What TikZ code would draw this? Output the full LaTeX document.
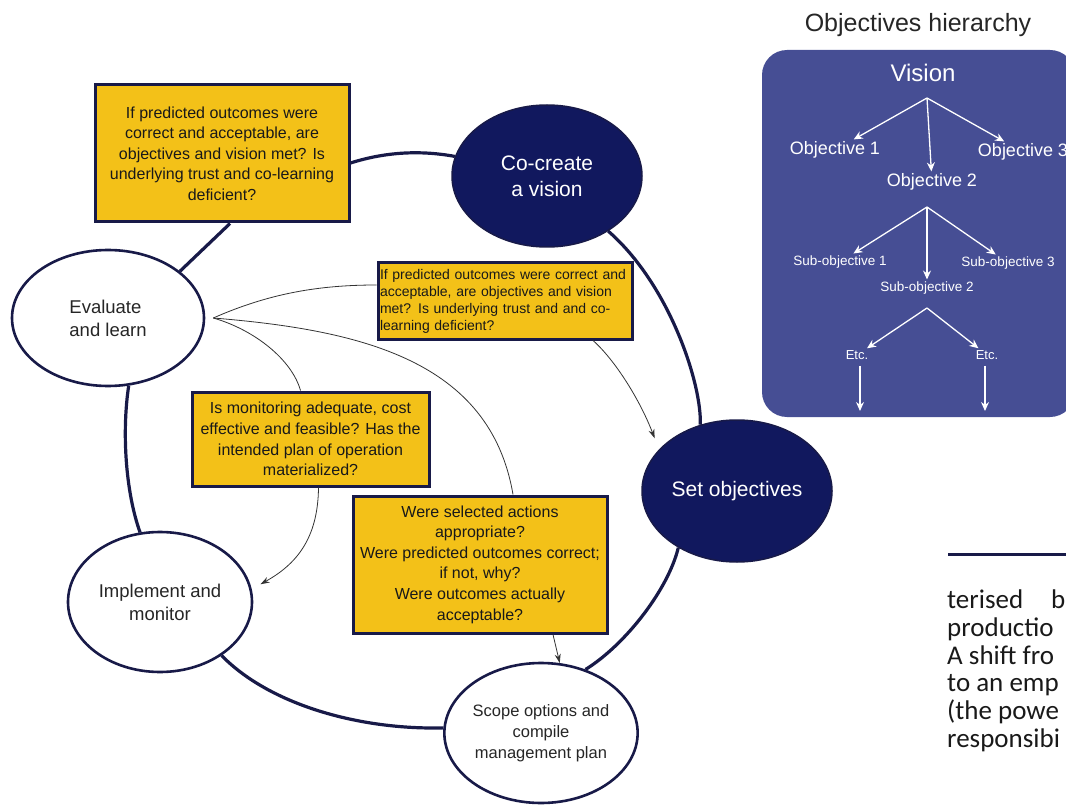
\documentclass[tikz,border=0pt]{standalone}
\usepackage{fontspec}
\setmainfont{Liberation Sans}
\newfontfamily\pagefont{Carlito}
\usepackage{tikz}
\usetikzlibrary{shapes.geometric}
\usetikzlibrary{arrows.meta}
\usetikzlibrary{positioning}

\definecolor{stepnavy}{RGB}{17,24,94}
\definecolor{edgenavy}{RGB}{24,26,72}
\definecolor{askyellow}{RGB}{243,193,24}
\definecolor{panelblue}{RGB}{70,78,148}

\tikzstyle{darkstep} = [ellipse, minimum width=190pt, minimum height=142pt, inner sep=0pt,
  align=center, draw=edgenavy, line width=1.5pt, fill=stepnavy, text=white,
  font=\fontsize{21}{26}\selectfont]
\tikzstyle{lightstep} = [ellipse, minimum width=190pt, minimum height=140pt, inner sep=0pt,
  align=center, draw=edgenavy, line width=2.6pt, fill=white, text=black!85,
  font=\fontsize{18.5}{23}\selectfont]
\tikzstyle{askblock} = [rectangle, inner sep=0pt, align=center, draw=edgenavy, line width=3pt,
  fill=askyellow, text=black!90, font=\fontsize{16}{20.6}\selectfont]
\tikzstyle{loopline} = [draw=edgenavy, line width=3.2pt]
\tikzstyle{askline} = [draw=black!80, line width=0.8pt]
\tikzstyle{arrow} = [askline,->,>={Stealth[length=9pt,width=6pt]}]
\tikzstyle{panelarrow} = [white, line width=1.3pt,->,>={Stealth[length=9pt,width=8pt]}]
\tikzstyle{paneltext} = [text=white, inner sep=2pt]
\tikzstyle{pagetext} = [anchor=base west, inner sep=0pt, text=black!90,
  font=\pagefont\fontsize{27}{28}\selectfont]

\begin{document}
\begin{tikzpicture}[x=1pt, y=-1pt]
  \path[use as bounding box] (0,0) rectangle (1066,805);
  \clip (0,0) rectangle (1066,805);

  % the management cycle
  \node (cocreate) [darkstep] at (547,176) {Co-create\\a vision};
  \node (setobj) [darkstep] at (737,491) {Set objectives};
  \node (evaluate) [lightstep, minimum width=192pt, minimum height=136pt, align=left] at (108,318)
    {Evaluate\\and learn};
  \node (implement) [lightstep, minimum width=184pt] at (160,602) {Implement and\\monitor};
  \node (scope) [lightstep, font=\fontsize{16.5}{21}\selectfont] at (541,733)
    {Scope options and\\compile\\management plan};

  % questions asked while learning
  \node (topask) [askblock, minimum width=254pt, minimum height=137pt] at (222,153.5)
    {If predicted outcomes were\\correct and acceptable, are\\objectives and vision met? Is\\underlying trust and co-learning\\deficient?};
  \node (midask) [askblock, minimum width=254pt, minimum height=76pt, text width=250pt,
    align=left, font=\fontsize{14}{17}\selectfont] at (505,301)
    {If predicted outcomes were correct and\\acceptable, are objectives and vision\\met? Is underlying trust and and co-\\learning deficient?};
  \node (monask) [askblock, minimum width=237pt, minimum height=94pt] at (310.5,439)
    {Is monitoring adequate, cost\\effective and feasible? Has the\\intended plan of operation\\materialized?};
  \node (selask) [askblock, minimum width=254pt, minimum height=137pt] at (480,564.5)
    {Were selected actions\\appropriate?\\Were predicted outcomes correct;\\if not, why?\\Were outcomes actually\\acceptable?};

  \draw [loopline] ([yshift=-9.5pt]topask.east) .. controls (385,152) and (420,150) .. (cocreate.168);
  \draw [loopline] ([xshift=8pt]topask.south) -- (evaluate.33);
  \draw [loopline] (evaluate.-73) .. controls (122,430) and (125,490) .. (implement.106);
  \draw [loopline] (implement.-41) .. controls (270,705) and (360,730) .. (scope.177);
  \draw [loopline] (scope.55) .. controls (625,645) and (668,590) .. (setobj.-136);
  \draw [loopline] (cocreate.-42) .. controls (670,285) and (702,385) .. (setobj.119);

  \coordinate (evalhub) at ([xshift=8pt]evaluate.east);
  \draw [askline] (evalhub) .. controls (270,293) and (320,285) .. ([yshift=16pt]midask.west);
  \draw [askline] (evalhub) .. controls (255,330) and (292,360) .. ([xshift=-10pt]monask.north);
  \draw [askline] (evalhub) .. controls (360,330) and (490,360) .. ([xshift=33pt]selask.north);
  \draw [arrow, shorten >=12pt] ([xshift=88pt]midask.south) .. controls (615,360) and (640,400) .. (setobj.152);
  \draw [arrow, shorten >=10pt] ([xshift=8pt]monask.south) .. controls (318,540) and (295,565) .. (implement.8);
  \draw [arrow] ([xshift=73pt]selask.south) -- (scope.75);

  % objectives hierarchy panel
  \node (paneltitle) [text=black!85, font=\fontsize{25}{30}\selectfont] at (918,25) {Objectives hierarchy};
  \node (panel) [rectangle, rounded corners=25pt, fill=panelblue, minimum width=313pt,
    minimum height=367pt] at (918.5,233.5) {};
  \node (topvision) [paneltext, font=\fontsize{24}{28}\selectfont] at (923,73) {Vision};
  \node (obja) [paneltext, font=\fontsize{18}{22}\selectfont] at (835,150) {Objective 1};
  \node (objb) [paneltext, font=\fontsize{18}{22}\selectfont] at (932,182) {Objective 2};
  \node (objc) [paneltext, font=\fontsize{18}{22}\selectfont] at (1023,152) {Objective 3};
  \node (suba) [paneltext, font=\fontsize{13.5}{16}\selectfont] at (840,262) {Sub-objective 1};
  \node (subb) [paneltext, font=\fontsize{13.5}{16}\selectfont] at (927,288) {Sub-objective 2};
  \node (subc) [paneltext, font=\fontsize{13.5}{16}\selectfont] at (1008,263) {Sub-objective 3};
  \node (etca) [paneltext, font=\fontsize{13}{16}\selectfont] at (857,355) {Etc.};
  \node (etcb) [paneltext, font=\fontsize{13}{16}\selectfont] at (987,355) {Etc.};

  \coordinate (visionfork) at (927,98);
  \coordinate (objfork) at (927,207);
  \coordinate (subfork) at (927,308);
  \coordinate (etcaend) at (860,411);
  \coordinate (etcbend) at (985,411);
  \draw [panelarrow] (visionfork) -- ([xshift=37pt,yshift=18pt]obja);
  \draw [panelarrow] (visionfork) -- ([xshift=-5pt,yshift=19pt]objb);
  \draw [panelarrow] (visionfork) -- ([xshift=-35pt,yshift=20pt]objc);
  \draw [panelarrow] (objfork) -- ([xshift=28pt,yshift=17pt]suba);
  \draw [panelarrow] (objfork) -- ([yshift=11pt]subb);
  \draw [panelarrow] (objfork) -- ([xshift=-20pt,yshift=23pt]subc);
  \draw [panelarrow] (subfork) -- ([xshift=10pt,yshift=18pt]etca);
  \draw [panelarrow] (subfork) -- ([xshift=1pt,yshift=18pt]etcb);
  \draw [panelarrow] ([xshift=3pt,yshift=-4pt]etca.south) -- (etcaend);
  \draw [panelarrow] ([xshift=-2pt,yshift=-4pt]etcb.south) -- (etcbend);

  % running text beside the figure
  \draw [edgenavy, line width=3pt] (948,554) -- (1070,554);
  \node (pagelinea) [pagetext] at (947,608) {terised\hspace{28pt}b};
  \node (pagelineb) [pagetext] at (947,636) {productio};
  \node (pagelinec) [pagetext] at (947,664) {A shift fro};
  \node (pagelined) [pagetext] at (947,691) {to an emp};
  \node (pagelinee) [pagetext] at (947,719) {(the powe};
  \node (pagelinef) [pagetext] at (947,747) {responsibi};
\end{tikzpicture}
\end{document}
